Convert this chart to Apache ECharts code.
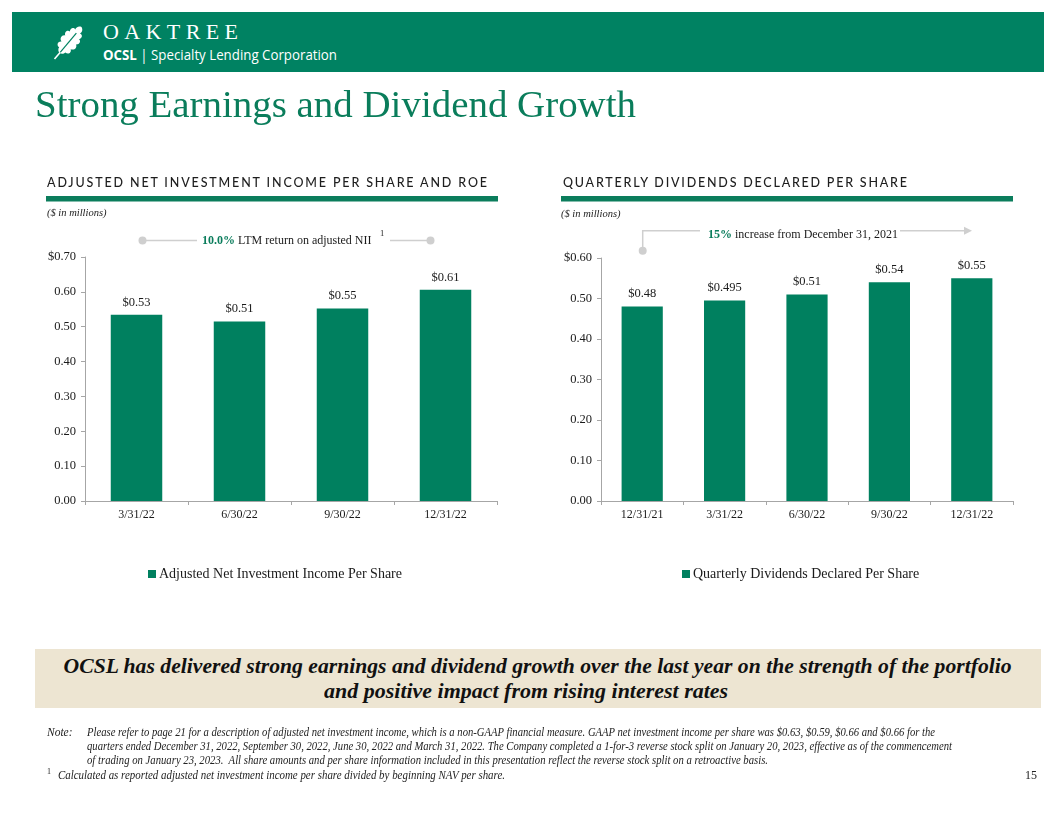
<!DOCTYPE html>
<html>
<head>
<meta charset="utf-8">
<script src="https://cdn.jsdelivr.net/npm/echarts@6/dist/echarts.min.js"></script>
<style>
  html, body { margin: 0; padding: 0; background: #fff; }
  #page { position: relative; width: 1056px; height: 816px; overflow: hidden; background: #fff; }
  #chart { position: absolute; left: 0; top: 0; width: 1056px; height: 816px; }
  .abs { position: absolute; white-space: nowrap; pointer-events: none; }
  .fit { display: inline-block; }
  .note { font-family: 'Liberation Serif', serif; font-style: italic; font-size: 11.5px; color: #222; line-height: 14px; }
</style>
</head>
<body>
<div id="page">
  <div id="chart"></div>

  <!-- header band -->
  <div class="abs" style="left:12px;top:12px;width:1032px;height:60px;background:#008262;"></div>
  <svg class="abs" style="left:44px;top:20px;" width="48" height="46" viewBox="0 0 48 46">
    <g transform="translate(24,23) rotate(40) translate(-10,-21)">
      <path d="M10,0 C13,1 14,4 13,6 C16,5 18,8 16,11 C19,11 20,15 17,17 C20,18 20,23 16,24 C19,26 18,30 14,30 C14,32 12,34 10,34 C8,34 6,32 6,30 C2,30 1,26 4,24 C0,23 0,18 3,17 C0,15 1,11 4,11 C2,8 4,5 7,6 C6,4 7,1 10,0 Z" fill="#ffffff"/>
      <path d="M10,8 L10,42" stroke="#008262" stroke-width="1.2" fill="none"/>
      <path d="M10,33 L10,42" stroke="#ffffff" stroke-width="1.6" fill="none"/>
    </g>
  </svg>
  <div class="abs" style="left:103px;top:19px;"><span id="oak" class="fit" style="font-family:'Liberation Serif',serif;font-size:22px;color:#fff;">OAKTREE</span></div>
  <div class="abs" style="left:103px;top:45px;"><span id="ocsl" class="fit" style="font-family:'Open Sans',sans-serif;font-size:14.5px;color:#fff;"><b>OCSL</b> | Specialty Lending Corporation</span></div>

  <!-- title -->
  <div class="abs" style="left:35px;top:83px;"><span id="title" class="fit" style="font-family:'Liberation Serif',serif;font-size:37px;color:#0a7d5b;">Strong Earnings and Dividend Growth</span></div>

  <!-- section headings -->
  <div class="abs" style="left:47px;top:173px;"><span id="h1" class="fit" style="font-family:'Lato',sans-serif;font-weight:500;font-size:12.5px;color:#1e1e1e;">ADJUSTED NET INVESTMENT INCOME PER SHARE AND ROE</span></div>
  <div class="abs" style="left:563px;top:173px;"><span id="h2" class="fit" style="font-family:'Lato',sans-serif;font-weight:500;font-size:12.5px;color:#1e1e1e;">QUARTERLY DIVIDENDS DECLARED PER SHARE</span></div>

  <!-- takeaway box -->
  <div class="abs" style="left:35px;top:649px;width:1006px;height:59px;background:#ede5d2;"></div>
  <div class="abs" style="left:35px;top:654px;width:1006px;text-align:center;"><span id="k1" class="fit" style="font-family:'Liberation Serif',serif;font-style:italic;font-weight:bold;font-size:21px;color:#111;">OCSL has delivered strong earnings and dividend growth over the last year on the strength of the portfolio</span></div>
  <div class="abs" style="left:23px;top:679px;width:1006px;text-align:center;"><span id="k2" class="fit" style="font-family:'Liberation Serif',serif;font-style:italic;font-weight:bold;font-size:21px;color:#111;">and positive impact from rising interest rates</span></div>

  <!-- notes -->
  <div class="abs note" style="left:47px;top:725px;">Note:</div>
  <div class="abs note" style="left:87px;top:725px;"><span id="n1" class="fit note">Please refer to page 21 for a description of adjusted net investment income, which is a non-GAAP financial measure. GAAP net investment income per share was $0.63, $0.59, $0.66 and $0.66 for the</span></div>
  <div class="abs note" style="left:87px;top:739px;"><span id="n2" class="fit note">quarters ended December 31, 2022, September 30, 2022, June 30, 2022 and March 31, 2022. The Company completed a 1-for-3 reverse stock split on January 20, 2023, effective as of the commencement</span></div>
  <div class="abs note" style="left:87px;top:753px;"><span id="n3" class="fit note">of trading on January 23, 2023.&nbsp; All share amounts and per share information included in this presentation reflect the reverse stock split on a retroactive basis.</span></div>
  <div class="abs" style="left:47px;top:767px;font-family:'Liberation Serif',serif;font-size:8px;line-height:9px;color:#222;">1</div>
  <div class="abs note" style="left:58px;top:768px;"><span id="n4" class="fit note">Calculated as reported adjusted net investment income per share divided by beginning NAV per share.</span></div>
  <div class="abs" style="left:1025px;top:768px;font-family:'Liberation Serif',serif;font-size:12px;line-height:14px;color:#222;">15</div>
</div>

<script>
// ---------------- data ----------------
const leftCategories = ['3/31/22', '6/30/22', '9/30/22', '12/31/22'];
const leftValues = [0.534, 0.515, 0.552, 0.606];
const leftLabels = ['$0.53', '$0.51', '$0.55', '$0.61'];
const leftSeriesName = 'Adjusted Net Investment Income Per Share';
const leftAxisMax = 0.7;

const rightCategories = ['12/31/21', '3/31/22', '6/30/22', '9/30/22', '12/31/22'];
const rightValues = [0.48, 0.495, 0.51, 0.54, 0.55];
const rightLabels = ['$0.48', '$0.495', '$0.51', '$0.54', '$0.55'];
const rightSeriesName = 'Quarterly Dividends Declared Per Share';
const rightAxisMax = 0.6;

const axisInterval = 0.1;

// ---------------- text fitting ----------------
function fitScale(id, target, origin) {
  const el = document.getElementById(id);
  const w = el.getBoundingClientRect().width;
  el.style.transformOrigin = origin || 'left center';
  el.style.transform = 'scaleX(' + (target / w) + ')';
}
function fitSpacing(id, target) {
  const el = document.getElementById(id);
  const n = el.textContent.length;
  const w = el.getBoundingClientRect().width;
  el.style.letterSpacing = ((target - w) / (n - 1)) + 'px';
}
fitSpacing('oak', 135);
fitScale('ocsl', 234);
fitScale('title', 601);
fitSpacing('h1', 440);
fitSpacing('h2', 344);
fitScale('k1', 948, 'center center');
fitScale('k2', 404, 'center center');
fitScale('n1', 848);
fitScale('n2', 865);
fitScale('n3', 681);
fitScale('n4', 447);

// ---------------- chart ----------------
const GREEN = '#00805f';
const AXIS = '#a6a6a6';
const FONT = 'Liberation Serif';
const TXT = '#1a1a1a';
const GRAYDOT = '#cfcfcf';

function yAxisCfg(gridIndex, max) {
  return {
    type: 'value', gridIndex: gridIndex, min: 0, max: max, interval: axisInterval,
    axisLine: { show: true, lineStyle: { color: AXIS, width: 1 } },
    axisTick: { show: true, length: 4, lineStyle: { color: AXIS } },
    splitLine: { show: false },
    axisLabel: {
      margin: 9, fontFamily: FONT, fontSize: 12.5, color: TXT,
      formatter: v => (Math.abs(v - max) < 1e-9 ? '$' : '') + v.toFixed(2)
    }
  };
}
function xAxisCfg(gridIndex, cats) {
  return {
    type: 'category', gridIndex: gridIndex, data: cats,
    axisLine: { show: true, lineStyle: { color: AXIS, width: 1 } },
    axisTick: { show: true, length: 4, alignWithLabel: false, lineStyle: { color: AXIS } },
    axisLabel: { margin: 8, fontFamily: FONT, fontSize: 12, color: TXT }
  };
}
function barSeries(name, idx, values, labels) {
  return {
    name: name, type: 'bar', xAxisIndex: idx, yAxisIndex: idx,
    data: values, barWidth: '50%',
    itemStyle: { color: GREEN },
    label: {
      show: true, position: 'top', distance: 6,
      fontFamily: FONT, fontSize: 12.5, color: TXT,
      formatter: p => labels[p.dataIndex]
    }
  };
}

const chart = echarts.init(document.getElementById('chart'), null, { renderer: 'canvas' });
chart.setOption({
  animation: false,
  grid: [
    { left: 85, top: 257, width: 412, height: 244 },
    { left: 601, top: 258, width: 412, height: 243 }
  ],
  xAxis: [xAxisCfg(0, leftCategories), xAxisCfg(1, rightCategories)],
  yAxis: [yAxisCfg(0, leftAxisMax), yAxisCfg(1, rightAxisMax)],
  legend: [
    {
      data: [leftSeriesName], left: 143, top: 562,
      itemWidth: 8, itemHeight: 8, itemGap: 4,
      icon: 'rect',
      textStyle: { fontFamily: FONT, fontSize: 14, color: TXT, padding: [0, 0, 0, -2] }
    },
    {
      data: [rightSeriesName], left: 677, top: 562,
      itemWidth: 8, itemHeight: 8, itemGap: 4,
      icon: 'rect',
      textStyle: { fontFamily: FONT, fontSize: 14, color: TXT, padding: [0, 0, 0, -2] }
    }
  ],
  series: [
    barSeries(leftSeriesName, 0, leftValues, leftLabels),
    barSeries(rightSeriesName, 1, rightValues, rightLabels)
  ],
  graphic: [
    // rules under headings
    { type: 'rect', shape: { x: 46, y: 196, width: 452, height: 5.5 }, style: { fill: '#0b7d5c' } },
    { type: 'rect', shape: { x: 561, y: 196, width: 452, height: 5.5 }, style: { fill: '#0b7d5c' } },
    // ($ in millions)
    { type: 'text', x: 47, y: 213, style: { text: '($ in millions)', fontFamily: FONT, fontStyle: 'italic', fontSize: 10.5, fill: '#222', verticalAlign: 'middle' } },
    { type: 'text', x: 561, y: 214, style: { text: '($ in millions)', fontFamily: FONT, fontStyle: 'italic', fontSize: 10.5, fill: '#222', verticalAlign: 'middle' } },
    // left annotation
    { type: 'line', shape: { x1: 142, y1: 240.5, x2: 197, y2: 240.5 }, style: { stroke: GRAYDOT, lineWidth: 1.5 } },
    { type: 'line', shape: { x1: 390, y1: 240.5, x2: 430, y2: 240.5 }, style: { stroke: GRAYDOT, lineWidth: 1.5 } },
    { type: 'circle', shape: { cx: 142.5, cy: 240.5, r: 4 }, style: { fill: GRAYDOT } },
    { type: 'circle', shape: { cx: 430.5, cy: 240.5, r: 4 }, style: { fill: GRAYDOT } },
    {
      type: 'text', x: 202, y: 241,
      style: {
        text: '{a|10.0%}{b| LTM return on adjusted NII}',
        verticalAlign: 'middle',
        rich: {
          a: { fontFamily: FONT, fontSize: 12, fontWeight: 'bold', fill: '#0b7d5c' },
          b: { fontFamily: FONT, fontSize: 12, fill: TXT }
        }
      }
    },
    { type: 'text', x: 380, y: 234, style: { text: '1', fontFamily: FONT, fontSize: 8.5, fill: TXT, verticalAlign: 'middle' } },
    // right annotation
    { type: 'polyline', shape: { points: [[642.7, 250], [642.7, 230.7], [700, 230.7]] }, style: { stroke: GRAYDOT, lineWidth: 1.5, fill: null } },
    { type: 'circle', shape: { cx: 642.7, cy: 250.7, r: 4 }, style: { fill: GRAYDOT } },
    { type: 'line', shape: { x1: 900, y1: 230.7, x2: 965, y2: 230.7 }, style: { stroke: GRAYDOT, lineWidth: 1.5 } },
    { type: 'polygon', shape: { points: [[964, 226.7], [972, 230.7], [964, 234.7]] }, style: { fill: GRAYDOT } },
    {
      type: 'text', x: 708, y: 234.5,
      style: {
        text: '{a|15%}{b| increase from December 31, 2021}',
        verticalAlign: 'middle',
        rich: {
          a: { fontFamily: FONT, fontSize: 12, fontWeight: 'bold', fill: '#0b7d5c' },
          b: { fontFamily: FONT, fontSize: 12, fill: TXT }
        }
      }
    }
  ]
});
</script>
</body>
</html>
